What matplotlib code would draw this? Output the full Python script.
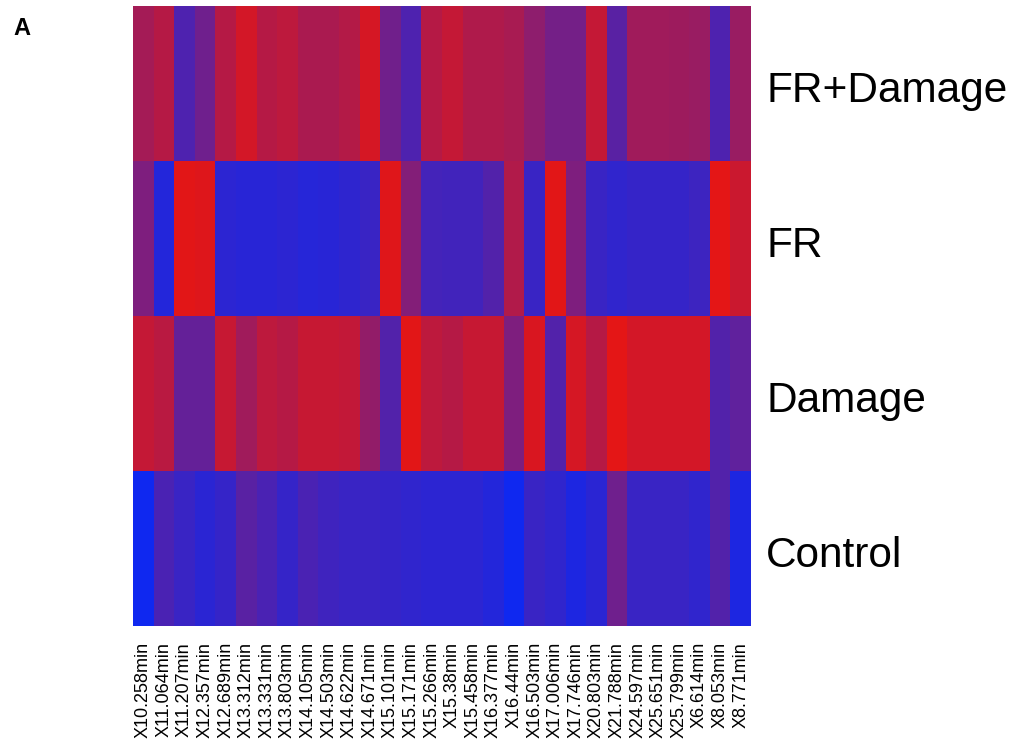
import numpy as np
import matplotlib
matplotlib.use("Agg")
import matplotlib.pyplot as plt
from matplotlib.colors import LinearSegmentedColormap
from matplotlib.transforms import ScaledTranslation

plt.rcParams['font.family'] = ['Liberation Sans', 'DejaVu Sans']

# Retention-time features (columns) and treatment groups (rows, top to bottom)
features = ["X10.258min", "X11.064min", "X11.207min", "X12.357min", "X12.689min",
            "X13.312min", "X13.331min", "X13.803min", "X14.105min", "X14.503min",
            "X14.622min", "X14.671min", "X15.101min", "X15.171min", "X15.266min",
            "X15.38min", "X15.458min", "X16.377min", "X16.44min", "X16.503min",
            "X17.006min", "X17.746min", "X20.803min", "X21.788min", "X24.597min",
            "X25.651min", "X25.799min", "X6.614min", "X8.053min", "X8.771min"]
groups = ["FR+Damage", "FR", "Damage", "Control"]

# Scaled relative abundance per group (0 = low, 1 = high)
fr_damage = [0.70, 0.78, 0.30, 0.45, 0.78, 0.92, 0.78, 0.82, 0.73, 0.73,
             0.77, 0.93, 0.46, 0.30, 0.78, 0.85, 0.75, 0.75, 0.72, 0.60,
             0.48, 0.48, 0.85, 0.35, 0.68, 0.68, 0.67, 0.65, 0.30, 0.65]
fr = [0.52, 0.10, 0.99, 0.97, 0.14, 0.12, 0.12, 0.14, 0.11, 0.12,
      0.15, 0.20, 0.98, 0.55, 0.25, 0.24, 0.24, 0.32, 0.76, 0.20,
      0.99, 0.52, 0.20, 0.16, 0.18, 0.18, 0.18, 0.22, 1.00, 0.88]
damage = [0.85, 0.80, 0.40, 0.40, 0.86, 0.68, 0.82, 0.78, 0.86, 0.86,
          0.84, 0.62, 0.32, 0.99, 0.82, 0.78, 0.86, 0.86, 0.52, 0.95,
          0.32, 0.93, 0.78, 1.00, 0.92, 0.92, 0.92, 0.92, 0.32, 0.38]
control = [0.00, 0.28, 0.20, 0.13, 0.18, 0.35, 0.28, 0.18, 0.28, 0.23,
           0.20, 0.20, 0.18, 0.16, 0.14, 0.14, 0.14, 0.10, 0.00, 0.20,
           0.16, 0.07, 0.13, 0.45, 0.20, 0.20, 0.20, 0.16, 0.32, 0.07]

data = np.array([fr_damage, fr, damage, control])

cmap = LinearSegmentedColormap.from_list(
    "blue_red", [(15 / 255, 40 / 255, 240 / 255), (228 / 255, 22 / 255, 22 / 255)])

W, H = 1017, 744
fig = plt.figure(figsize=(W / 100, H / 100), dpi=100)
left, right, top, bottom = 133, 751, 6, 626
ax = fig.add_axes([left / W, 1 - bottom / H, (right - left) / W, (bottom - top) / H])

ax.imshow(data, cmap=cmap, vmin=0, vmax=1, aspect="auto", interpolation="nearest")

ax.set_xticks(np.arange(len(features)))
ax.set_xticklabels(features, rotation=90, fontsize=13)
ax.set_yticks(np.arange(len(groups)))
ax.set_yticklabels(groups, fontsize=30.5)
ax.yaxis.tick_right()
ax.tick_params(axis="x", length=0, pad=11.5)
ax.tick_params(axis="y", length=0, pad=11)
shift = ScaledTranslation(0, -3 / 100, fig.dpi_scale_trans)
for lbl in ax.get_yticklabels():
    lbl.set_transform(lbl.get_transform() + shift)
for s in ax.spines.values():
    s.set_visible(False)

fig.text(13 / W, 1 - 35 / H, "A", fontsize=17, fontweight="bold", va="baseline", ha="left")

fig.savefig("out.png", dpi=100)
